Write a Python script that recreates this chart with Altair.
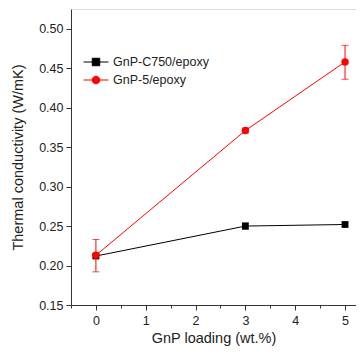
import altair as alt
import pandas as pd

loading = [0, 3, 5]
series = ["GnP-C750/epoxy", "GnP-5/epoxy"]
colors = ["#000000", "#ff0000"]

c750 = [0.212, 0.250, 0.252]
c750_lo = [0.210, 0.246, 0.249]
c750_hi = [0.214, 0.254, 0.255]

gnp5 = [0.213, 0.371, 0.458]
gnp5_lo = [0.192, 0.368, 0.436]
gnp5_hi = [0.233, 0.374, 0.479]

x_ticks = [-0.5, 0, 0.5, 1, 1.5, 2, 2.5, 3, 3.5, 4, 4.5, 5]
y_ticks = [0.15, 0.175, 0.2, 0.225, 0.25, 0.275, 0.3, 0.325, 0.35, 0.375,
           0.4, 0.425, 0.45, 0.475, 0.5, 0.525]

rows = []
for i, x in enumerate(loading):
    rows.append({"x": x, "y": c750[i], "lo": c750_lo[i], "hi": c750_hi[i], "series": series[0]})
for i, x in enumerate(loading):
    rows.append({"x": x, "y": gnp5[i], "lo": gnp5_lo[i], "hi": gnp5_hi[i], "series": series[1]})
df = pd.DataFrame(rows)

FONT = "Liberation Sans"

xs = alt.Scale(domain=[-0.5, 5.22], nice=False, zero=False)
ys = alt.Scale(domain=[0.15, 0.525], nice=False, zero=False)

major_y = "abs(datum.value * 20 - round(datum.value * 20)) < 0.01 && datum.value < 0.51"

X = alt.X("x:Q", scale=xs, axis=alt.Axis(
    title="GnP loading (wt.%)", values=x_ticks,
    labelExpr="datum.value % 1 == 0 ? format(datum.value, 'd') : ''",
    tickSize={"condition": {"test": "datum.value % 1 == 0", "value": 5}, "value": 3},
    grid=False, labelFontSize=12.5, titleFontSize=14.5, labelPadding=4, titlePadding=5,
    domainColor="#333", tickColor="#333", labelColor="#222", titleColor="#222",
    labelFont=FONT, titleFont=FONT, titleFontWeight="normal"))
Y = alt.Y("y:Q", scale=ys, axis=alt.Axis(
    title="Thermal conductivity (W/mK)", values=y_ticks,
    labelExpr=major_y + " ? format(datum.value, '.2f') : ''",
    tickSize={"condition": {"test": major_y, "value": 5}, "value": 3},
    grid=False, labelFontSize=12.5, titleFontSize=14.5, labelPadding=3, titlePadding=13,
    domainColor="#333", tickColor="#333", labelColor="#222", titleColor="#222",
    labelFont=FONT, titleFont=FONT, titleFontWeight="normal"))

base = alt.Chart(df)

layers = []
shapes = ["square", "circle"]
sizes = [45, 55]
for s, col, shp, sz in zip(series, colors, shapes, sizes):
    b = base.transform_filter(alt.datum.series == s)
    layers.append(b.mark_line(color=col, strokeWidth=1).encode(x=X, y=Y))
    layers.append(b.mark_rule(color=col, strokeWidth=1).encode(x=X, y=alt.Y("lo:Q", scale=ys), y2="hi:Q"))
    layers.append(b.mark_tick(color=col, orient="horizontal", size=7, thickness=1).encode(x=X, y=alt.Y("hi:Q", scale=ys)))
    layers.append(b.mark_tick(color=col, orient="horizontal", size=7, thickness=1).encode(x=X, y=alt.Y("lo:Q", scale=ys)))
    layers.append(b.mark_point(color=col, filled=True, opacity=1, shape=shp, size=sz).encode(x=X, y=Y))

paths = [
    "M-2,0H2M-0.6,-0.6H0.6V0.6H-0.6Z",
    "M-2,0H2M0.62,0A0.62,0.62,0,1,1,-0.62,0A0.62,0.62,0,1,1,0.62,0Z",
]
leg = alt.Legend(title=None, orient="none", legendX=18, legendY=46, padding=0,
                 symbolSize=156, symbolStrokeWidth=1, labelOffset=10, rowPadding=4,
                 labelFont=FONT, labelFontSize=12.5, labelColor="#222")
legend_layer = alt.Chart(pd.DataFrame({"series": series})).transform_filter("false").mark_point(
    filled=True, opacity=1).encode(
    color=alt.Color("series:N", scale=alt.Scale(domain=series, range=colors), legend=leg, sort=series),
    stroke=alt.Stroke("series:N", scale=alt.Scale(domain=series, range=colors), legend=leg, sort=series),
    shape=alt.Shape("series:N", scale=alt.Scale(domain=series, range=paths), legend=leg, sort=series),
)
layers.append(legend_layer)

chart = alt.layer(*layers).properties(
    width=285, height=296,
    autosize=alt.AutoSizeParams(type="none"),
    padding={"left": 63, "top": 1, "right": 0, "bottom": 41},
).configure_view(stroke=None).configure(background="white")

chart.save("out.html", embed_options={"renderer": "svg", "actions": False})
